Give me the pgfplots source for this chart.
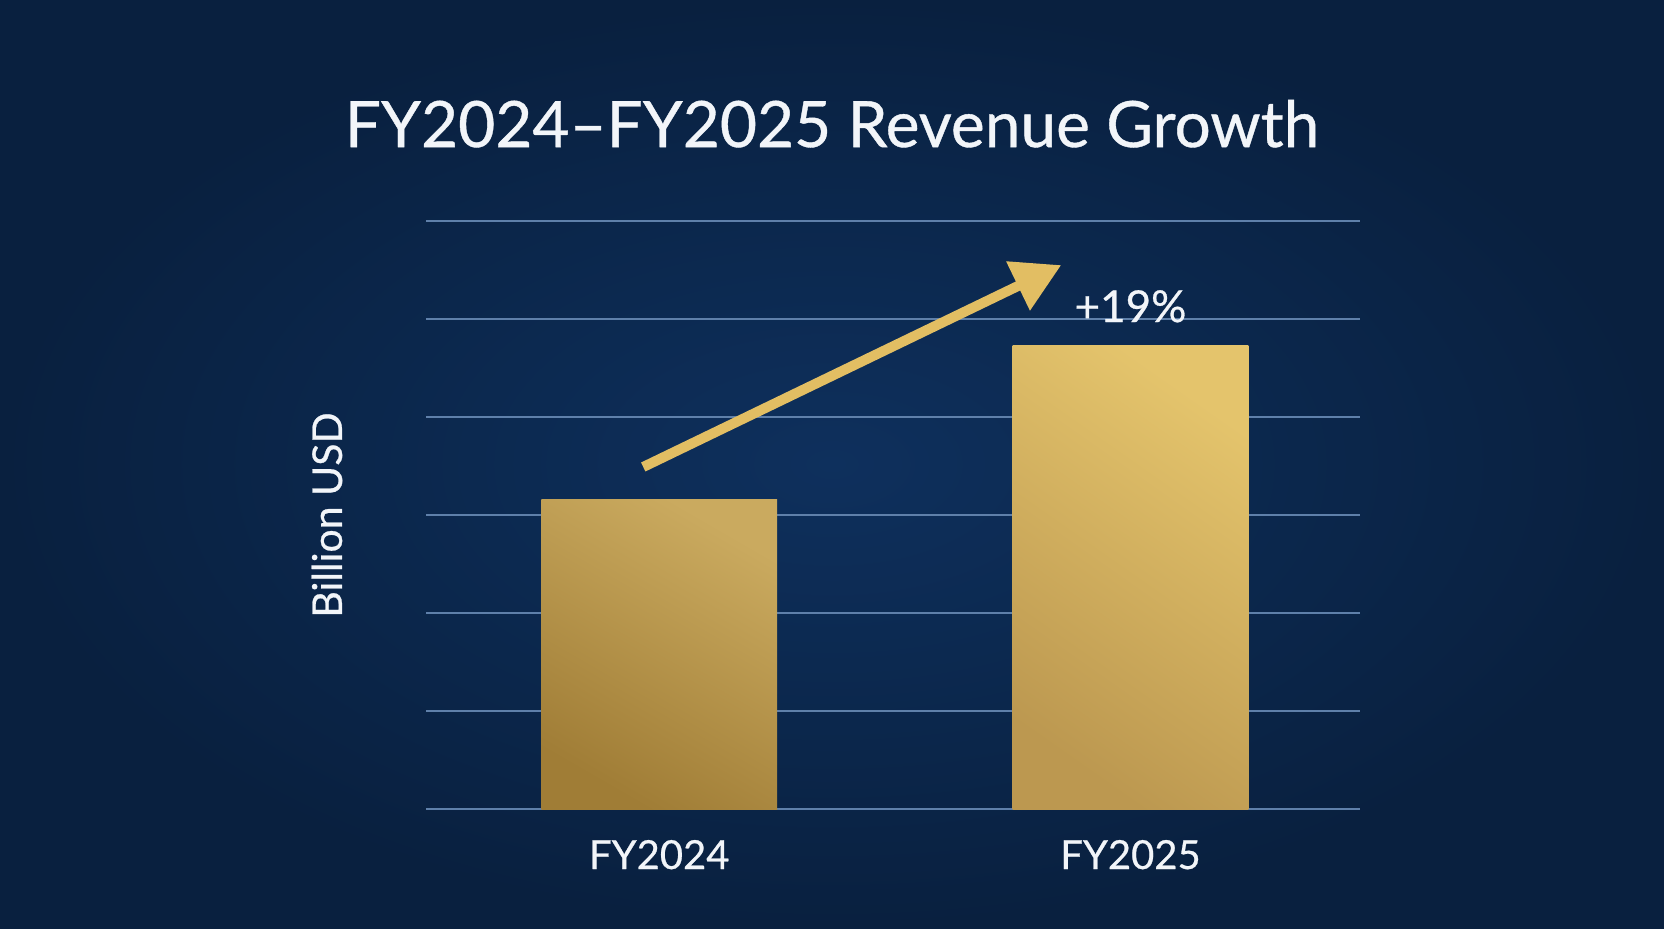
\documentclass[border=0pt]{standalone}
\usepackage{fontspec}
\setmainfont{Lato}[FakeBold=0.6]
\usepackage{pgfplots}
\pgfplotsset{compat=1.18}
\usetikzlibrary{arrows.meta}

\definecolor{bgin}{HTML}{0E305D}
\definecolor{bgout}{HTML}{09203F}
\definecolor{gridc}{HTML}{5F80AA}
\definecolor{txt}{HTML}{F2F5F9}
\definecolor{golda}{HTML}{A07D36}
\definecolor{goldb}{HTML}{CAAA5F}
\definecolor{goldc}{HTML}{BC9850}
\definecolor{goldd}{HTML}{F2D985}
\definecolor{golde}{HTML}{E4C46C}
\definecolor{arrowc}{HTML}{E2BE63}

\begin{document}
\begin{tikzpicture}[x=1pt,y=1pt]
% background, 1664x928 px at 0.5pt per px
\shade[inner color=bgin, outer color=bgout] (-213,-59.5) rectangle (619,404.5);
\useasboundingbox (-213,-59.5) rectangle (619,404.5);

\begin{axis}[
    at={(0,0)}, anchor=south west,
    scale only axis,
    width=467pt, height=294pt,
    xmin=-0.495, xmax=1.487,
    ymin=0, ymax=6,
    xtick={0,1},
    xticklabels={FY2024,FY2025},
    ytick={0,1,2,3,4,5,6},
    yticklabels={},
    ymajorgrids,
    grid style={gridc, line width=1.1pt},
    axis line style={draw=none},
    tick style={draw=none},
    xticklabel style={anchor=base, yshift=-30pt, font=\fontsize{20}{24}\selectfont, text=txt},
    ylabel={Billion USD},
    ylabel style={at={(axis description cs:-0.106,0.5)}, anchor=center, font=\fontsize{20.5}{24}\selectfont, text=txt},
    title={FY2024–FY2025 Revenue Growth},
    title style={at={(axis description cs:0.4347,1.145)}, anchor=center, font=\fontsize{32}{38}\selectfont, text=txt},
    clip=false,
]
\addplot[ybar, bar width=0.5, bar shift=0pt, draw=none,
    bottom color=golda, top color=goldb, shading angle=-30]
    coordinates {(0,3.16)};
\addplot[ybar, bar width=0.5, bar shift=0pt, draw=none,
    bottom color=goldc, middle color=goldd, top color=golde, shading angle=-35]
    coordinates {(1,4.73)};

\draw[arrowc, line width=5pt, -{Triangle[length=24pt, width=26pt]}]
    (axis cs:-0.034,3.49) -- (axis cs:0.853,5.55);
\node[text=txt, font=\fontsize{22}{26}\selectfont] at (axis cs:1,5.13) {+19\%};
\end{axis}
\end{tikzpicture}
\end{document}
